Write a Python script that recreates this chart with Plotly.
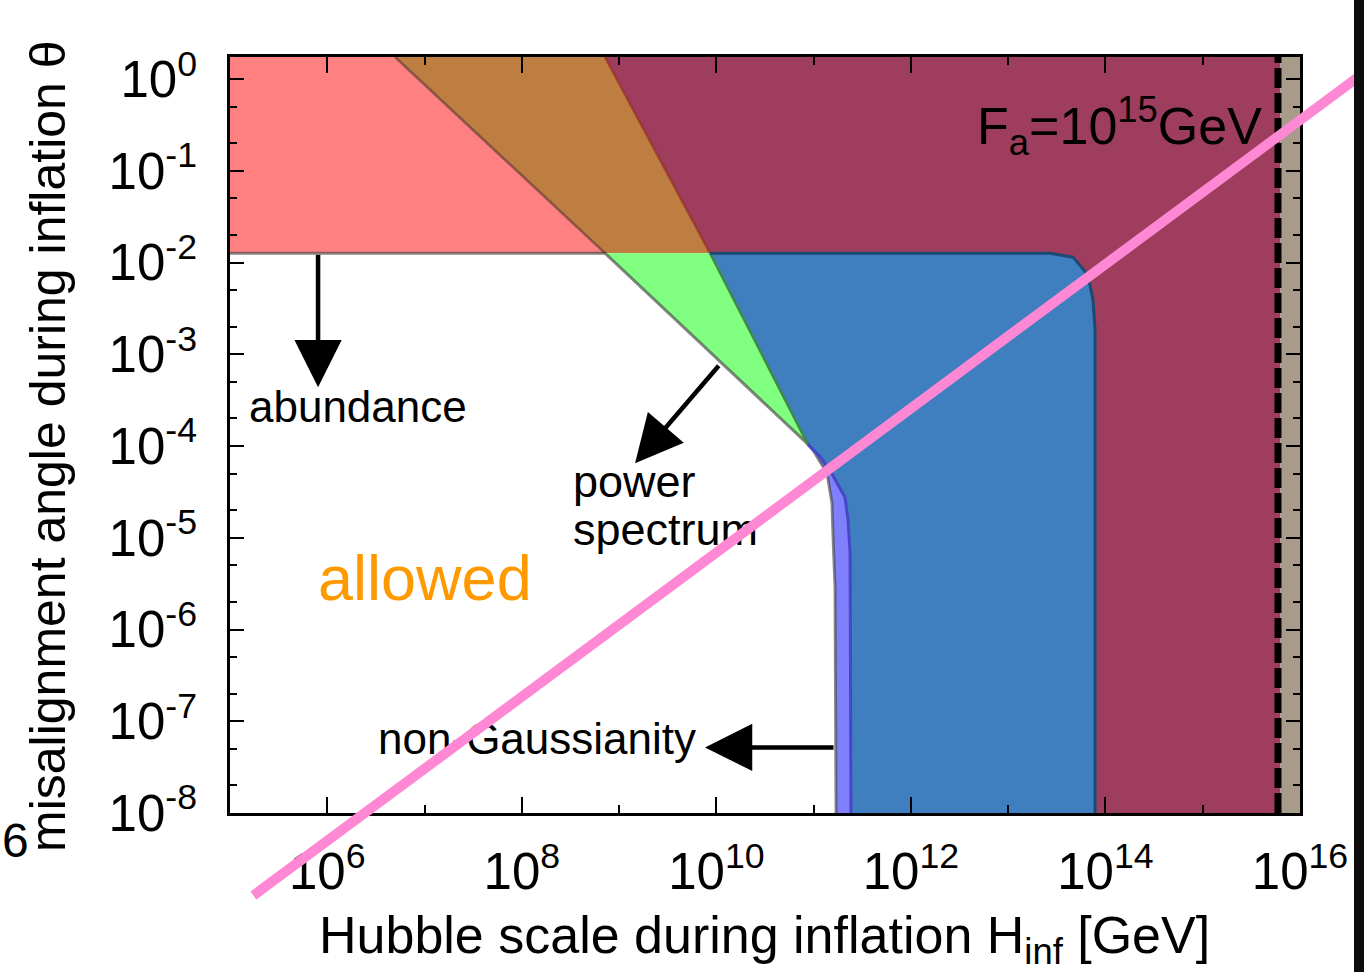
import math
import plotly.graph_objects as go

# ---------------- data ----------------
theta_abund = 1.265e-2          # abundance bound
theta_top = 1.74                # top of plotted range
H_left, H_right = 1e5, 1e16

red_H = [1e5, 1e5, 4.97e6, 7.16e8]
red_T = [1.265e-2, 1.74, 1.74, 1.265e-2]
orange_H = [4.97e6, 7.16e8, 8.61e9, 7.16e8]
orange_T = [1.74, 1.74, 1.265e-2, 1.265e-2]
maroon_H = [7.16e8, 6.3e15, 6.3e15, 3e11, 3e11, 8.61e9]
maroon_T = [1.74, 1.74, 1e-8, 1e-8, 1.265e-2, 1.265e-2]
green_H = [7.16e8, 8.61e9, 8.71e10]
green_T = [1.265e-2, 1.265e-2, 1.05e-4]
purple_H = [8.71e10, 9.86e10, 1.374e11, 1.545e11, 1.585e11, 1.66e11, 1.70e11, 3e11, 3e11]
purple_T = [1.05e-4, 8.99e-5, 5.05e-5, 2.38e-5, 1.01e-5, 2.88e-6, 1e-8, 1e-8, 1.05e-4]
blue_top_H = [8.61e9, 2.69e13, 4.65e13, 6.62e13, 7.45e13, 7.82e13, 7.82e13]
blue_top_T = [1.265e-2, 1.265e-2, 1.145e-2, 7.29e-3, 3.89e-3, 1.83e-3, 1e-8]
blue_left_H = [8.71e10, 1.175e11, 1.472e11, 2.10e11, 2.26e11, 2.37e11, 2.42e11]
blue_left_T = [1.05e-4, 7.59e-5, 5.44e-5, 2.77e-5, 1.55e-5, 6.78e-6, 1e-8]
bound_H = [1e5, 7.16e8, 8.71e10, 9.86e10, 1.374e11, 1.545e11, 1.585e11, 1.66e11, 1.70e11]
bound_T = [1.265e-2, 1.265e-2, 1.05e-4, 8.99e-5, 5.05e-5, 2.38e-5, 1.01e-5, 2.88e-6, 1e-8]
diag1_H = [4.97e6, 7.16e8]
diag1_T = [1.74, 1.265e-2]
diag2_up_H = [7.16e8, 8.61e9]
diag2_up_T = [1.74, 1.265e-2]
diag2_lo_H = [8.61e9, 8.71e10]
diag2_lo_T = [1.265e-2, 1.05e-4]
brown_H = [6.3e15, 1e16, 1e16, 6.3e15]
brown_T = [1e-8, 1e-8, 1.74, 1.74]
dash_H = [5.94e15, 5.94e15]
dash_T = [1e-8, 1.74]
pink_H = [1.74e5, 4.0e16]
pink_T = [1.26e-9, 1.06]

x_tickvals = [1e6, 1e8, 1e10, 1e12, 1e14, 1e16]
x_ticktext = ["10<sup>6</sup>", "10<sup>8</sup>", "10<sup>10</sup>", "10<sup>12</sup>",
              "10<sup>14</sup>", "10<sup>16</sup>"]
y_tickvals = [1e-8, 1e-7, 1e-6, 1e-5, 1e-4, 1e-3, 1e-2, 1e-1, 1e0]
y_ticktext = ["10<sup>-8</sup>", "10<sup>-7</sup>", "10<sup>-6</sup>", "10<sup>-5</sup>",
              "10<sup>-4</sup>", "10<sup>-3</sup>", "10<sup>-2</sup>", "10<sup>-1</sup>",
              "10<sup>0</sup>"]

# ---------------- figure ----------------
W, Hfig = 1364, 972
FONT = "Liberation Sans"
left_px, right_px, top_px, bot_px = 230, 1300, 57, 813
xdom = [left_px / W, right_px / W]
ydom = [(Hfig - bot_px) / Hfig, (Hfig - top_px) / Hfig]
xr = [math.log10(H_left), math.log10(H_right)]
yr = [-8, math.log10(theta_top)]

fig = go.Figure()


def poly(xs, ys, color):
    fig.add_trace(go.Scatter(x=xs, y=ys, fill="toself", fillcolor=color, mode="lines",
                             line=dict(width=0, color=color), hoverinfo="skip"))


def line(xs, ys, color, width, dash=None):
    fig.add_trace(go.Scatter(x=xs, y=ys, mode="lines", hoverinfo="skip",
                             line=dict(color=color, width=width, dash=dash)))


poly(red_H, red_T, "#FF8080")
poly(orange_H, orange_T, "#BE7E42")
poly(maroon_H, maroon_T, "#9E3D5D")
poly(green_H, green_T, "#80FF80")
poly(purple_H, purple_T, "#8080FF")
poly(blue_top_H + blue_left_H[::-1], blue_top_T + blue_left_T[::-1], "#3F7FBF")
poly(brown_H, brown_T, "#A89B8A")

line(bound_H, bound_T, "rgba(70,70,70,0.65)", 3)
line(diag1_H, diag1_T, "rgba(70,40,40,0.55)", 2.5)
line(diag2_up_H, diag2_up_T, "rgba(150,50,40,0.8)", 2.5)
line(diag2_lo_H, diag2_lo_T, "#3F8A45", 2.5)
line(blue_left_H, blue_left_T, "#4646C8", 3)
line(blue_top_H, blue_top_T, "#1D4A72", 3)
line(dash_H, dash_T, "black", 7, dash="20px,5px")


def label(x, y, txt, size, color="black"):
    fig.add_trace(go.Scatter(x=[x], y=[y], mode="text", text=[txt], textposition="middle right",
                             textfont=dict(family=FONT, size=size, color=color),
                             hoverinfo="skip", cliponaxis=False))


label(1.567e5, 2.40e-4, "abundance", 44)
label(3.36e8, 3.65e-5, "power", 45)
label(3.36e8, 1.12e-5, "spectrum", 45)
label(3.33e6, 5.8e-8, "non-Gaussianity", 44)
label(8.04e5, 3.15e-6, "allowed", 63, "#FF9900")
label(4.79e12, 0.27, "F<sub>a</sub>=10<sup>15</sup>GeV", 52)

sx = (xr[1] - xr[0]) / (xdom[1] - xdom[0])
sy = (yr[1] - yr[0]) / (ydom[1] - ydom[0])
x2r = [xr[0] - xdom[0] * sx, xr[1] + (1 - xdom[1]) * sx]
y2r = [yr[0] - ydom[0] * sy, yr[1] + (1 - ydom[1]) * sy]
fig.add_trace(go.Scatter(x=pink_H, y=pink_T, xaxis="x2", yaxis="y2", mode="lines",
                         line=dict(color="#FF88D5", width=10), hoverinfo="skip"))

axis_common = dict(type="log", showgrid=False, zeroline=False, showline=True, linecolor="black",
                   linewidth=2.5, mirror="ticks", ticks="inside", tickcolor="black", tickwidth=2,
                   tickfont=dict(family=FONT, size=51, color="black"), tickmode="array",
                   automargin=False)

fig.update_layout(
    width=W, height=Hfig, autosize=False, margin=dict(l=0, r=0, t=0, b=0, pad=0),
    paper_bgcolor="white", plot_bgcolor="rgba(0,0,0,0)", showlegend=False,
    font=dict(family=FONT, color="black"),
    xaxis=dict(axis_common, domain=xdom, range=xr, anchor="y", tickvals=x_tickvals,
               ticktext=x_ticktext, ticklen=16, ticklabelstandoff=12,
               minor=dict(dtick=1, ticks="inside", ticklen=8, tickcolor="black", tickwidth=2)),
    yaxis=dict(axis_common, domain=ydom, range=yr, anchor="x", tickvals=y_tickvals,
               ticktext=y_ticktext, ticklen=14, ticklabelstandoff=20,
               minor=dict(dtick="D2", ticks="inside", ticklen=7, tickcolor="black", tickwidth=2)),
    xaxis2=dict(type="log", domain=[0, 1], range=x2r, anchor="y2", visible=False),
    yaxis2=dict(type="log", domain=[0, 1], range=y2r, anchor="x2", visible=False),
)

arrow = dict(xref="x", yref="y", axref="x", ayref="y", text="", showarrow=True, arrowhead=2,
             arrowsize=2.1, arrowwidth=4.5, arrowcolor="black", standoff=0, startstandoff=0)
fig.add_annotation(arrow, x=math.log10(8.04e5), y=math.log10(4.38e-4),
                   ax=math.log10(8.04e5), ay=math.log10(theta_abund))
fig.add_annotation(arrow, x=math.log10(1.46e9), y=math.log10(6.49e-5),
                   ax=math.log10(1.09e10), ay=math.log10(7.8e-4))
fig.add_annotation(arrow, x=math.log10(7.64e9), y=math.log10(5.19e-8),
                   ax=math.log10(1.66e11), ay=math.log10(5.19e-8))

fig.add_annotation(xref="paper", yref="paper", x=765 / W, y=1 - 904 / Hfig, xanchor="center",
                   yanchor="top", showarrow=False,
                   text="Hubble scale during inflation H<sub>inf</sub> [GeV]",
                   font=dict(family=FONT, size=52, color="black"))
fig.add_annotation(xref="paper", yref="paper", x=18 / W, y=1 - 446 / Hfig, xanchor="left",
                   yanchor="middle", showarrow=False, textangle=-90,
                   text="misalignment angle during inflation θ",
                   font=dict(family=FONT, size=50, color="black"))
fig.add_annotation(xref="paper", yref="paper", x=15 / W, y=1 - 840 / Hfig, xanchor="center",
                   yanchor="middle", showarrow=False, text="6",
                   font=dict(family=FONT, size=48, color="black"))

fig.add_shape(type="rect", xref="paper", yref="paper", x0=1354 / W, x1=1, y0=0, y1=1,
              fillcolor="#0d0d0d", line=dict(width=0), layer="above")

fig.write_html("out.html", config={"responsive": False, "displayModeBar": False},
               post_script="document.body.style.margin='0';"
                           "document.documentElement.style.overflow='hidden';"
                           "document.body.style.overflow='hidden';")
